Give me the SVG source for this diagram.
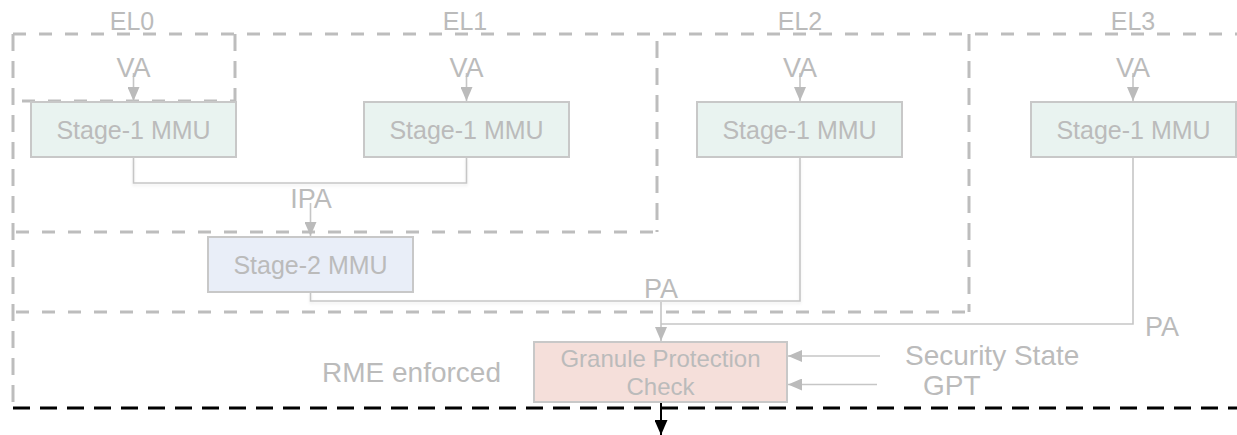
<svg xmlns="http://www.w3.org/2000/svg" width="1237" height="435" viewBox="0 0 1237 435">
  <defs>
    <marker id="arrGray" viewBox="0 0 14 12" refX="14" refY="6" markerWidth="14" markerHeight="12" markerUnits="userSpaceOnUse" orient="auto">
      <path d="M0,0 L14,6 L0,12 Z" fill="#bbbbbb"/>
    </marker>
    <marker id="arrBlack" viewBox="0 0 15 13" refX="15" refY="6.5" markerWidth="15" markerHeight="13" markerUnits="userSpaceOnUse" orient="auto">
      <path d="M0,0 L15,6.5 L0,13 Z" fill="#000"/>
    </marker>
    <filter id="soft" x="-5%" y="-5%" width="110%" height="130%">
      <feDropShadow dx="0" dy="2" stdDeviation="1.5" flood-color="#000" flood-opacity="0.08"/>
    </filter>
  </defs>
  <style>
    .hd { stroke: #bdbdbd; stroke-width: 3; stroke-dasharray: 13 13; fill: none; }
    .vd { stroke: #bdbdbd; stroke-width: 3; stroke-dasharray: 17 10; fill: none; }
    .edge { stroke: #c6c6c6; stroke-width: 1.6; fill: none; }
    .lbl { font-family: "Liberation Sans", Arial, sans-serif; fill: #bbbbbb; }
    .box { stroke: #c8c8c8; stroke-width: 2; }
    .s1 { fill: #e9f3f0; }
    .s2 { fill: #e9eef8; }
    .gpc { fill: #f5dfda; }
  </style>

  <rect width="1237" height="435" fill="#ffffff"/>

  <!-- exception level regions -->
  <g id="regions">
    <!-- outer region -->
    <line class="hd" x1="13" y1="34" x2="1237" y2="34"/>
    <line class="vd" x1="13" y1="34" x2="13" y2="406"/>
    <!-- EL0 -->
    <line class="vd" x1="235" y1="34" x2="235" y2="101"/>
    <line class="hd" x1="22" y1="101" x2="235" y2="101"/>
    <!-- EL1 -->
    <line class="vd" x1="657" y1="41" x2="657" y2="232"/>
    <line class="hd" x1="16" y1="232" x2="657" y2="232"/>
    <!-- EL2 -->
    <line class="vd" x1="969" y1="34" x2="969" y2="312"/>
    <line class="hd" x1="16" y1="312" x2="969" y2="312"/>
    <!-- realm boundary -->
    <line x1="13" y1="408" x2="1237" y2="408" stroke="#000" stroke-width="3" stroke-dasharray="17 10"/>
  </g>

  <g id="level-labels" class="lbl" font-size="25" text-anchor="middle">
    <text x="132" y="30">EL0</text>
    <text x="465" y="30">EL1</text>
    <text x="800" y="30">EL2</text>
    <text x="1133" y="30">EL3</text>
  </g>

  <!-- connectors -->
  <g id="connectors">
    <line class="edge" x1="133.5" y1="73" x2="133.5" y2="101" marker-end="url(#arrGray)"/>
    <line class="edge" x1="466.5" y1="73" x2="466.5" y2="101" marker-end="url(#arrGray)"/>
    <line class="edge" x1="800" y1="73" x2="800" y2="101" marker-end="url(#arrGray)"/>
    <line class="edge" x1="1133" y1="73" x2="1133" y2="101" marker-end="url(#arrGray)"/>
    <path class="edge" filter="url(#soft)" d="M133.5,157 V183 H466.5 V157"/>
    <line class="edge" x1="310.5" y1="203" x2="310.5" y2="236" marker-end="url(#arrGray)"/>
    <path class="edge" filter="url(#soft)" d="M310.5,292 V301 H800 V157"/>
    <path class="edge" d="M1133,157 V324 H661"/>
    <line class="edge" x1="661" y1="302" x2="661" y2="341" marker-end="url(#arrGray)"/>
    <line class="edge" x1="880" y1="356" x2="788" y2="356" marker-end="url(#arrGray)"/>
    <line class="edge" x1="877" y1="384.5" x2="788" y2="384.5" marker-end="url(#arrGray)"/>
    <line x1="661" y1="402" x2="661" y2="435" stroke="#000" stroke-width="2" marker-end="url(#arrBlack)"/>
  </g>

  <!-- edge labels -->
  <g id="edge-labels" class="lbl" font-size="27" text-anchor="middle">
    <text x="133.5" y="77">VA</text>
    <text x="466.5" y="77">VA</text>
    <text x="800" y="77">VA</text>
    <text x="1133" y="77">VA</text>
    <text x="311" y="208">IPA</text>
    <text x="661" y="298">PA</text>
    <text x="1162" y="336">PA</text>
  </g>

  <g id="el0-stage1">
    <rect class="box s1" x="31" y="102" width="205" height="55"/>
    <text class="lbl" x="133.5" y="139" font-size="25" text-anchor="middle">Stage-1 MMU</text>
  </g>
  <g id="el1-stage1">
    <rect class="box s1" x="364" y="102" width="205" height="55"/>
    <text class="lbl" x="466.5" y="139" font-size="25" text-anchor="middle">Stage-1 MMU</text>
  </g>
  <g id="el2-stage1">
    <rect class="box s1" x="697" y="102" width="205" height="55"/>
    <text class="lbl" x="799.5" y="139" font-size="25" text-anchor="middle">Stage-1 MMU</text>
  </g>
  <g id="el3-stage1">
    <rect class="box s1" x="1031" y="102" width="205" height="55"/>
    <text class="lbl" x="1133.5" y="139" font-size="25" text-anchor="middle">Stage-1 MMU</text>
  </g>
  <g id="stage2">
    <rect class="box s2" x="208" y="237" width="205" height="55"/>
    <text class="lbl" x="310.5" y="274" font-size="25" text-anchor="middle">Stage-2 MMU</text>
  </g>
  <g id="gpc">
    <rect class="box gpc" x="534" y="342" width="253" height="60"/>
    <text class="lbl" x="660.5" y="367" font-size="24" text-anchor="middle">Granule Protection</text>
    <text class="lbl" x="660.5" y="395" font-size="24" text-anchor="middle">Check</text>
  </g>

  <g id="inputs" class="lbl" font-size="28">
    <text x="905" y="365">Security State</text>
    <text x="923" y="395">GPT</text>
    <text x="322" y="382">RME enforced</text>
  </g>
</svg>
